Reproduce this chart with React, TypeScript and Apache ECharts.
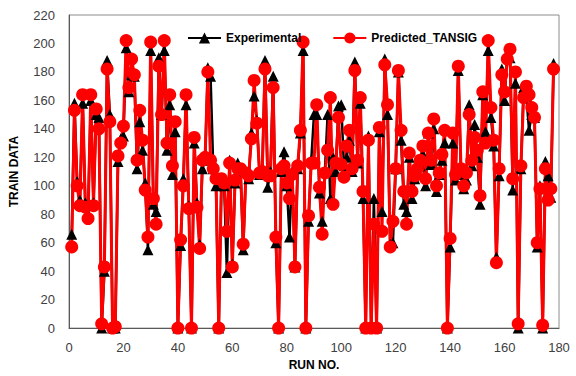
import React, { useEffect, useRef } from "react";
import * as echarts from "echarts";

// Run numbers 1..178
const experimental: number[] = [
  66, 158, 103, 90, 158, 88, 80, 160, 88, 150, 148, 0, 40, 188, 150, 0, 0, 117, 133, 135,
  197, 166, 178, 177, 112, 145, 125, 102, 55, 195, 87, 82, 190, 150, 195, 125, 157, 108, 138, 0,
  58, 105, 157, 86, 0, 130, 88, 59, 112, 118, 183, 177, 112, 100, 0, 103, 100, 39, 118, 45,
  102, 116, 110, 55, 110, 105, 137, 163, 146, 108, 110, 188, 99, 110, 177, 60, 0, 110, 124, 100,
  64, 110, 43, 112, 137, 195, 0, 75, 118, 150, 150, 95, 75, 110, 150, 91, 120, 110, 156, 157,
  114, 120, 132, 110, 187, 116, 158, 91, 0, 135, 0, 91, 0, 138, 82, 189, 150, 59, 60, 112,
  180, 132, 87, 82, 120, 91, 105, 108, 114, 122, 100, 137, 115, 140, 96, 108, 118, 130, 0, 57,
  130, 104, 181, 108, 98, 104, 157, 114, 143, 120, 87, 164, 138, 195, 148, 128, 50, 107, 182, 160,
  193, 190, 97, 172, 0, 112, 169, 163, 139, 150, 148, 57, 100, 0, 117, 107, 92, 186,
];

const predicted: number[] = [
  57, 153, 100, 86, 164, 85, 77, 164, 86, 154, 140, 3, 43, 182, 145, 0, 1, 121, 130, 142,
  202, 169, 189, 178, 118, 153, 132, 97, 64, 201, 91, 73, 184, 150, 202, 130, 164, 114, 145, 0,
  62, 100, 164, 84, 0, 134, 85, 56, 118, 120, 180, 118, 112, 105, 0, 105, 102, 68, 116, 43,
  104, 112, 112, 59, 109, 107, 133, 174, 144, 109, 110, 182, 107, 107, 169, 64, 0, 112, 114, 102,
  91, 108, 43, 114, 139, 201, 0, 79, 116, 116, 157, 99, 66, 109, 125, 162, 87, 116, 148, 115,
  106, 128, 139, 112, 181, 118, 162, 96, 0, 132, 0, 73, 0, 141, 68, 185, 157, 57, 75, 112,
  181, 139, 96, 73, 123, 96, 107, 112, 118, 128, 105, 137, 118, 147, 100, 109, 122, 139, 0, 63,
  137, 108, 184, 112, 100, 109, 150, 118, 134, 125, 93, 166, 130, 202, 155, 132, 46, 112, 178, 166,
  189, 196, 105, 180, 3, 114, 162, 170, 164, 155, 148, 60, 98, 2, 112, 90, 98, 182,
];

const xTicks = { min: 0, max: 180, interval: 20 };
const yTicks = { min: 0, max: 220, interval: 20 };

export default function App() {
  const ref = useRef<HTMLDivElement>(null);
  useEffect(() => {
    if (!ref.current) return;
    document.body.style.margin = "0";
    const chart = echarts.init(ref.current, null, { renderer: "svg" });
    const font = "'Liberation Sans', Arial, sans-serif";
    chart.setOption({
      animation: false,
      textStyle: { fontFamily: font },
      grid: {
        left: 67,
        right: 17,
        top: 15,
        bottom: 39,
        show: true,
        borderColor: "#8c8c8c",
        borderWidth: 1,
      },
      legend: {
        left: 182,
        top: 27,
        itemWidth: 33,
        itemHeight: 14,
        itemGap: 31,
        textStyle: { fontWeight: "bold", fontSize: 12, color: "#000", fontFamily: font },
        data: ["Experimental", "Predicted_TANSIG"],
      },
      xAxis: {
        type: "value",
        ...xTicks,
        name: "RUN NO.",
        nameLocation: "middle",
        nameGap: 27,
        nameTextStyle: { fontWeight: "bold", fontSize: 12, color: "#000" },
        axisLine: { show: true, lineStyle: { color: "#595959", width: 1 } },
        axisTick: { show: false },
        splitLine: { show: false },
        axisLabel: { fontSize: 13, color: "#404040", margin: 13 },
      },
      yAxis: {
        type: "value",
        ...yTicks,
        name: "TRAIN DATA",
        nameLocation: "middle",
        nameGap: 49,
        nameTextStyle: { fontWeight: "bold", fontSize: 12, color: "#000" },
        axisLine: { show: true, lineStyle: { color: "#595959", width: 1 } },
        axisTick: { show: false },
        splitLine: { show: false },
        axisLabel: { fontSize: 13, color: "#404040", margin: 14 },
      },
      series: [
        {
          name: "Experimental",
          type: "line",
          data: experimental.map((v, i) => [i + 1, v]),
          symbol: "triangle",
          symbolSize: 11,
          itemStyle: { color: "#000000" },
          lineStyle: { color: "#000000", width: 2.5 },
        },
        {
          name: "Predicted_TANSIG",
          type: "line",
          data: predicted.map((v, i) => [i + 1, v]),
          symbol: "circle",
          symbolSize: 13,
          itemStyle: { color: "#ff0000" },
          lineStyle: { color: "#ff0000", width: 3 },
        },
      ],
    });
    return () => chart.dispose();
  }, []);
  return (
    <div
      ref={ref}
      style={{ position: "absolute", left: 0, top: 0, width: 576, height: 376 }}
    />
  );
}
